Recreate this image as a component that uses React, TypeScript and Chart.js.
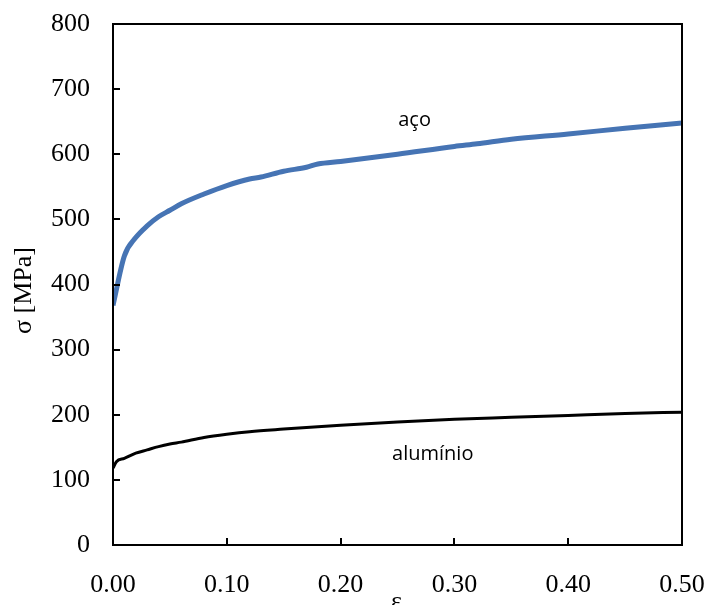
import React, { useEffect, useRef } from "react";
import { Chart, registerables } from "chart.js";

Chart.register(...registerables);

const strainSteel = [0, 0.01, 0.02, 0.03, 0.04, 0.05, 0.06, 0.08, 0.10, 0.12, 0.13, 0.15, 0.17, 0.18, 0.20, 0.25, 0.30, 0.32, 0.35, 0.40, 0.45, 0.50];
const stressSteel = [368, 444, 472, 490, 504, 514, 524, 539, 552, 562, 565, 574, 580, 585, 589, 600, 612, 616, 623, 631, 640, 648];

const strainAl = [0, 0.003, 0.01, 0.02, 0.03, 0.04, 0.05, 0.06, 0.08, 0.10, 0.12, 0.15, 0.20, 0.25, 0.30, 0.35, 0.40, 0.45, 0.50];
const stressAl = [118, 128, 133, 141, 146, 151, 155, 158, 165, 170, 174, 178, 184, 189, 193, 196, 199, 202, 204];

const yTicks = [0, 100, 200, 300, 400, 500, 600, 700, 800];
const xTicks = [0, 0.1, 0.2, 0.3, 0.4, 0.5];

const labelSteel = "aço";
const labelAl = "alumínio";
const xTitle = "ε";
const yTitle = "σ [MPa]";

const SERIF = "Liberation Serif";
const SANS = "Open Sans";

export default function App() {
  const ref = useRef<HTMLCanvasElement>(null);
  useEffect(() => {
    let chart: any = null;
    let cancelled = false;
    const boxPlugin = {
      id: "box",
      afterDraw(c: any) {
        const { ctx, chartArea } = c;
        const { left, right, top, bottom } = chartArea;
        const xs = c.scales.x;
        const ys = c.scales.y;
        ctx.save();
        ctx.strokeStyle = "#000";
        ctx.lineWidth = 2;
        ctx.strokeRect(left, top, right - left, bottom - top);
        ctx.beginPath();
        yTicks.forEach((v) => {
          const py = Math.round(ys.getPixelForValue(v));
          ctx.moveTo(left, py);
          ctx.lineTo(left + 7, py);
        });
        xTicks.forEach((v) => {
          const px = Math.round(xs.getPixelForValue(v));
          ctx.moveTo(px, bottom);
          ctx.lineTo(px, bottom - 7);
        });
        ctx.stroke();
        ctx.fillStyle = "#000";
        ctx.font = `20px "${SANS}"`;
        ctx.textAlign = "center";
        ctx.textBaseline = "alphabetic";
        ctx.fillText(labelSteel, xs.getPixelForValue(0.265), ys.getPixelForValue(644));
        ctx.fillText(labelAl, xs.getPixelForValue(0.281), ys.getPixelForValue(131));
        ctx.font = `26px "${SERIF}"`;
        ctx.fillText(xTitle, xs.getPixelForValue(0.249), 609);
        ctx.translate(24, (top + bottom) / 2 + 6);
        ctx.rotate(-Math.PI / 2);
        ctx.textBaseline = "middle";
        ctx.fillText(yTitle, 0, 0);
        ctx.restore();
      },
    };
    const build = () => {
      if (cancelled || !ref.current) return;
      chart = new Chart(ref.current, {
        type: "scatter",
        data: {
          datasets: [
            {
              label: labelSteel,
              data: strainSteel.map((x, i) => ({ x, y: stressSteel[i] })),
              showLine: true,
              borderColor: "#4674B4",
              borderWidth: 5,
              pointRadius: 0,
              cubicInterpolationMode: "monotone",
            },
            {
              label: labelAl,
              data: strainAl.map((x, i) => ({ x, y: stressAl[i] })),
              showLine: true,
              borderColor: "#000",
              borderWidth: 3,
              pointRadius: 0,
              cubicInterpolationMode: "monotone",
            },
          ],
        },
        options: {
          animation: false,
          responsive: false,
          layout: { padding: { top: 24, right: 25, left: 0, bottom: 0 } },
          plugins: { legend: { display: false }, tooltip: { enabled: false } },
          scales: {
            x: {
              type: "linear",
              min: 0,
              max: 0.5,
              afterFit: (s: any) => {
                s.height = 60;
                s.paddingLeft = 0;
                s.paddingRight = 0;
              },
              afterBuildTicks: (s: any) => { s.ticks = xTicks.map((v) => ({ value: v })); },
              grid: { display: false, drawTicks: false },
              border: { display: false },
              ticks: {
                padding: 25,
                color: "#000",
                font: { family: SERIF, size: 26 },
                callback: (v: any) => Number(v).toFixed(2),
                maxRotation: 0,
              },
            },
            y: {
              type: "linear",
              min: 0,
              max: 800,
              afterFit: (s: any) => {
                s.width = 113;
                s.paddingTop = 0;
                s.paddingBottom = 0;
              },
              afterBuildTicks: (s: any) => { s.ticks = yTicks.map((v) => ({ value: v })); },
              grid: { display: false, drawTicks: false },
              border: { display: false },
              ticks: {
                padding: 23,
                color: "#000",
                font: { family: SERIF, size: 26 },
                callback: (v: any) => String(v),
              },
            },
          },
        },
        plugins: [boxPlugin],
      });
    };
    const fonts: any = (document as any).fonts;
    if (fonts && fonts.load) {
      Promise.all([
        fonts.load(`26px "${SERIF}"`, "0123456789.ε σ[MPa]"),
        fonts.load(`20px "${SANS}"`, "açoalumínio"),
      ]).then(build, build);
    } else {
      build();
    }
    return () => {
      cancelled = true;
      if (chart) chart.destroy();
    };
  }, []);
  return (
    <div style={{ position: "fixed", left: 0, top: 0, width: 707, height: 605, background: "#fff" }}>
      <canvas ref={ref} width={707} height={605} style={{ display: "block" }} />
    </div>
  );
}
